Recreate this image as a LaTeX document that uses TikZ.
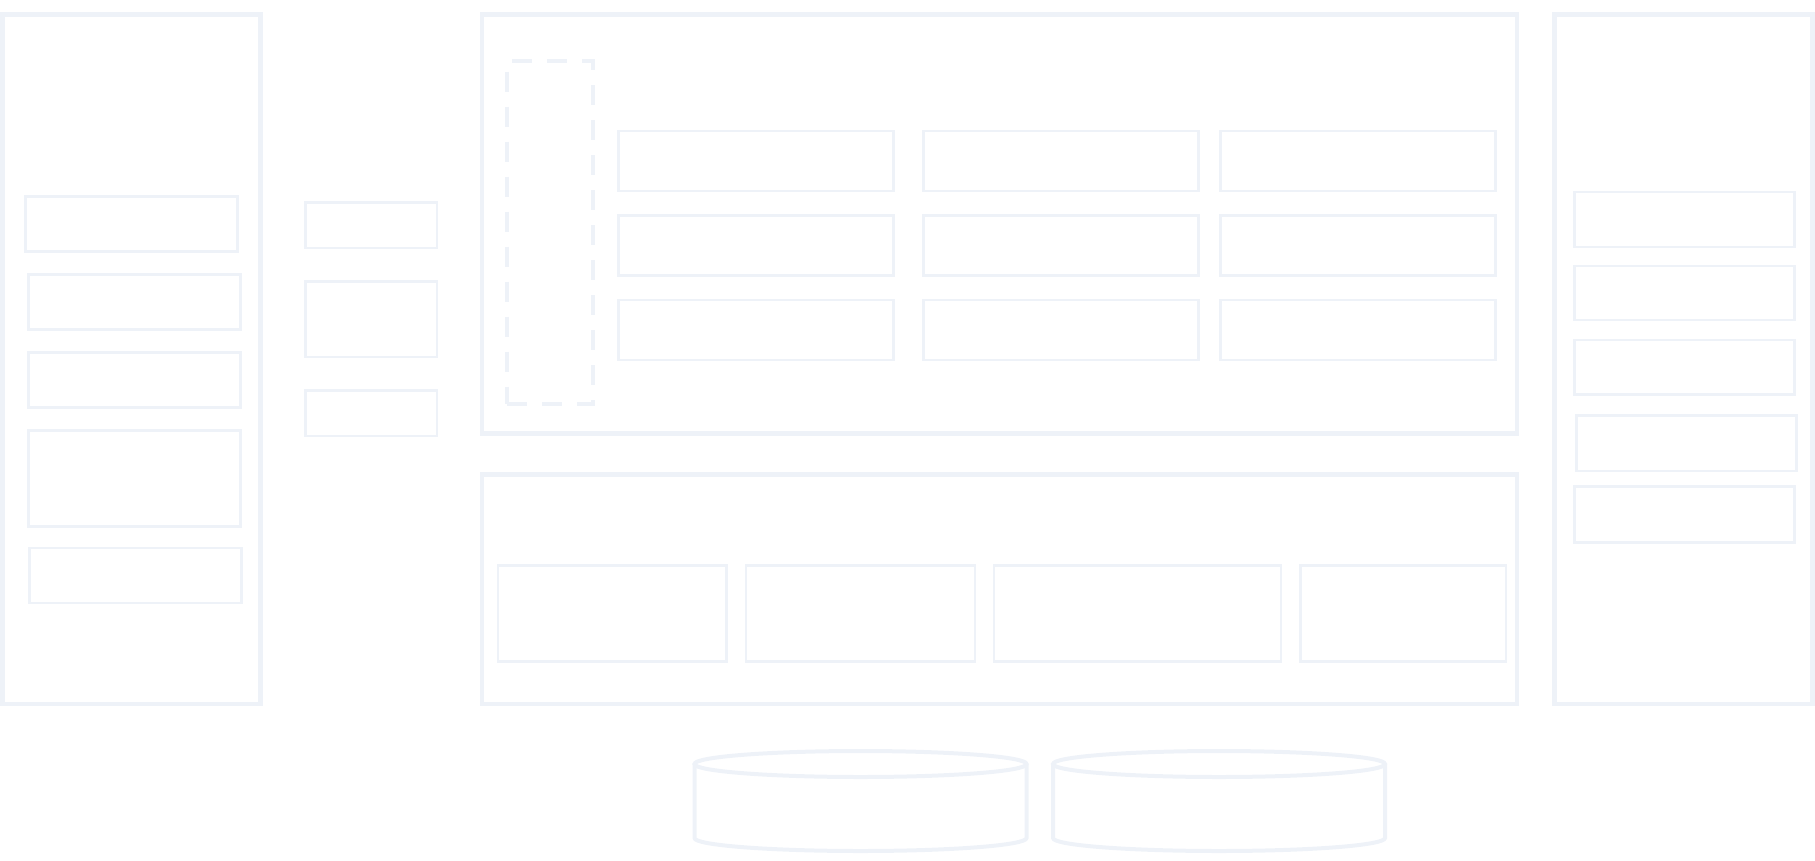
\documentclass[tikz,border=0pt]{standalone}
\usepackage{xcolor}
\usepackage{tikz}
\usetikzlibrary{positioning}
\definecolor{rim}{RGB}{238,242,248}

\begin{document}
\begin{tikzpicture}[
  x=1pt, y=-1pt,
  node distance=24.5pt and 30pt,
  panel/.style={draw=rim, line width=4.5pt, inner sep=0pt, outer sep=0pt},
  cell/.style={draw=rim, line width=2.5pt, inner sep=0pt, outer sep=0pt},
  gridcell/.style={cell, minimum width=275pt, minimum height=60pt},
  lowcell/.style={cell, minimum height=96pt},
  sidecell/.style={cell, minimum width=212pt, minimum height=55pt},
  railcell/.style={cell, minimum width=220pt, minimum height=55pt},
  guard/.style={draw=rim, line width=4pt, dash pattern=on 20pt off 15pt, inner sep=0pt, outer sep=0pt},
  db/.style={draw=rim, line width=4pt}
]
\useasboundingbox (0,0) rectangle (1815,860);

% outer panels
\node[panel, minimum width=258pt, minimum height=689.5pt] (leftpanel) at (131.5,359.25) {};
\node[panel, minimum width=1035pt, minimum height=419pt] (mainpanel) at (999.5,223.9) {};
\node[panel, minimum width=1035pt, minimum height=229.5pt] (lowpanel) at (999.5,589.3) {};
\node[panel, minimum width=258pt, minimum height=689.5pt] (rightpanel) at (1683.5,359.25) {};

% left column
\node[sidecell, minimum width=212.4pt] (left1) at (131.5,223.8) {};
\node[sidecell] (left2) at (134.3,301.8) {};
\node[sidecell] (left3) at (134.3,379.8) {};
\node[sidecell, minimum height=96pt] (left4) at (134.3,478.4) {};
\node[sidecell] (left5) at (135.3,575.7) {};

% narrow column
\node[cell, minimum width=131.5pt, minimum height=45.7pt] (mid1) at (371.3,225.2) {};
\node[cell, minimum width=131.5pt, minimum height=75.7pt] (mid2) at (371.3,319.2) {};
\node[cell, minimum width=131.5pt, minimum height=45.4pt] (mid3) at (371.3,413.3) {};

% main grid
\node[guard, minimum width=86pt, minimum height=342.5pt] (guard) at (550,232.3) {};
\node[gridcell] (a1) at (755.8,160.8) {};
\node[gridcell, right=of a1] (b1) {};
\node[gridcell, right=22pt of b1] (c1) {};
\node[gridcell, below=of a1] (a2) {};
\node[gridcell, right=of a2] (b2) {};
\node[gridcell, right=22pt of b2] (c2) {};
\node[gridcell, below=of a2] (a3) {};
\node[gridcell, right=of a3] (b3) {};
\node[gridcell, right=22pt of b3] (c3) {};

% lower row
\node[lowcell, minimum width=228.5pt] (low1) at (612.3,613.4) {};
\node[lowcell, minimum width=229pt, right=19.5pt of low1] (low2) {};
\node[lowcell, minimum width=287pt, right=19pt of low2] (low3) {};
\node[lowcell, minimum width=205.5pt, right=19.5pt of low3] (low4) {};

% right column
\node[railcell] (right1) at (1684.5,219.5) {};
\node[railcell, minimum height=54pt] (right2) at (1684.5,293) {};
\node[railcell, minimum height=54.5pt] (right3) at (1684.5,367.3) {};
\node[railcell, minimum height=55.5pt] (right4) at (1686.5,443.3) {};
\node[railcell, minimum height=56pt] (right5) at (1684.5,514.5) {};

% stores
\foreach \cx/\nm in {860.5/storea, 1219/storeb} {
  \coordinate (\nm) at (\cx,764);
  \draw[db] ([xshift=-166pt]\nm) -- ++(0,74) arc[start angle=180, end angle=0, x radius=166, y radius=13] -- ([xshift=166pt]\nm);
  \draw[db] (\nm) ellipse [x radius=166, y radius=13];
}

\end{tikzpicture}
\end{document}
